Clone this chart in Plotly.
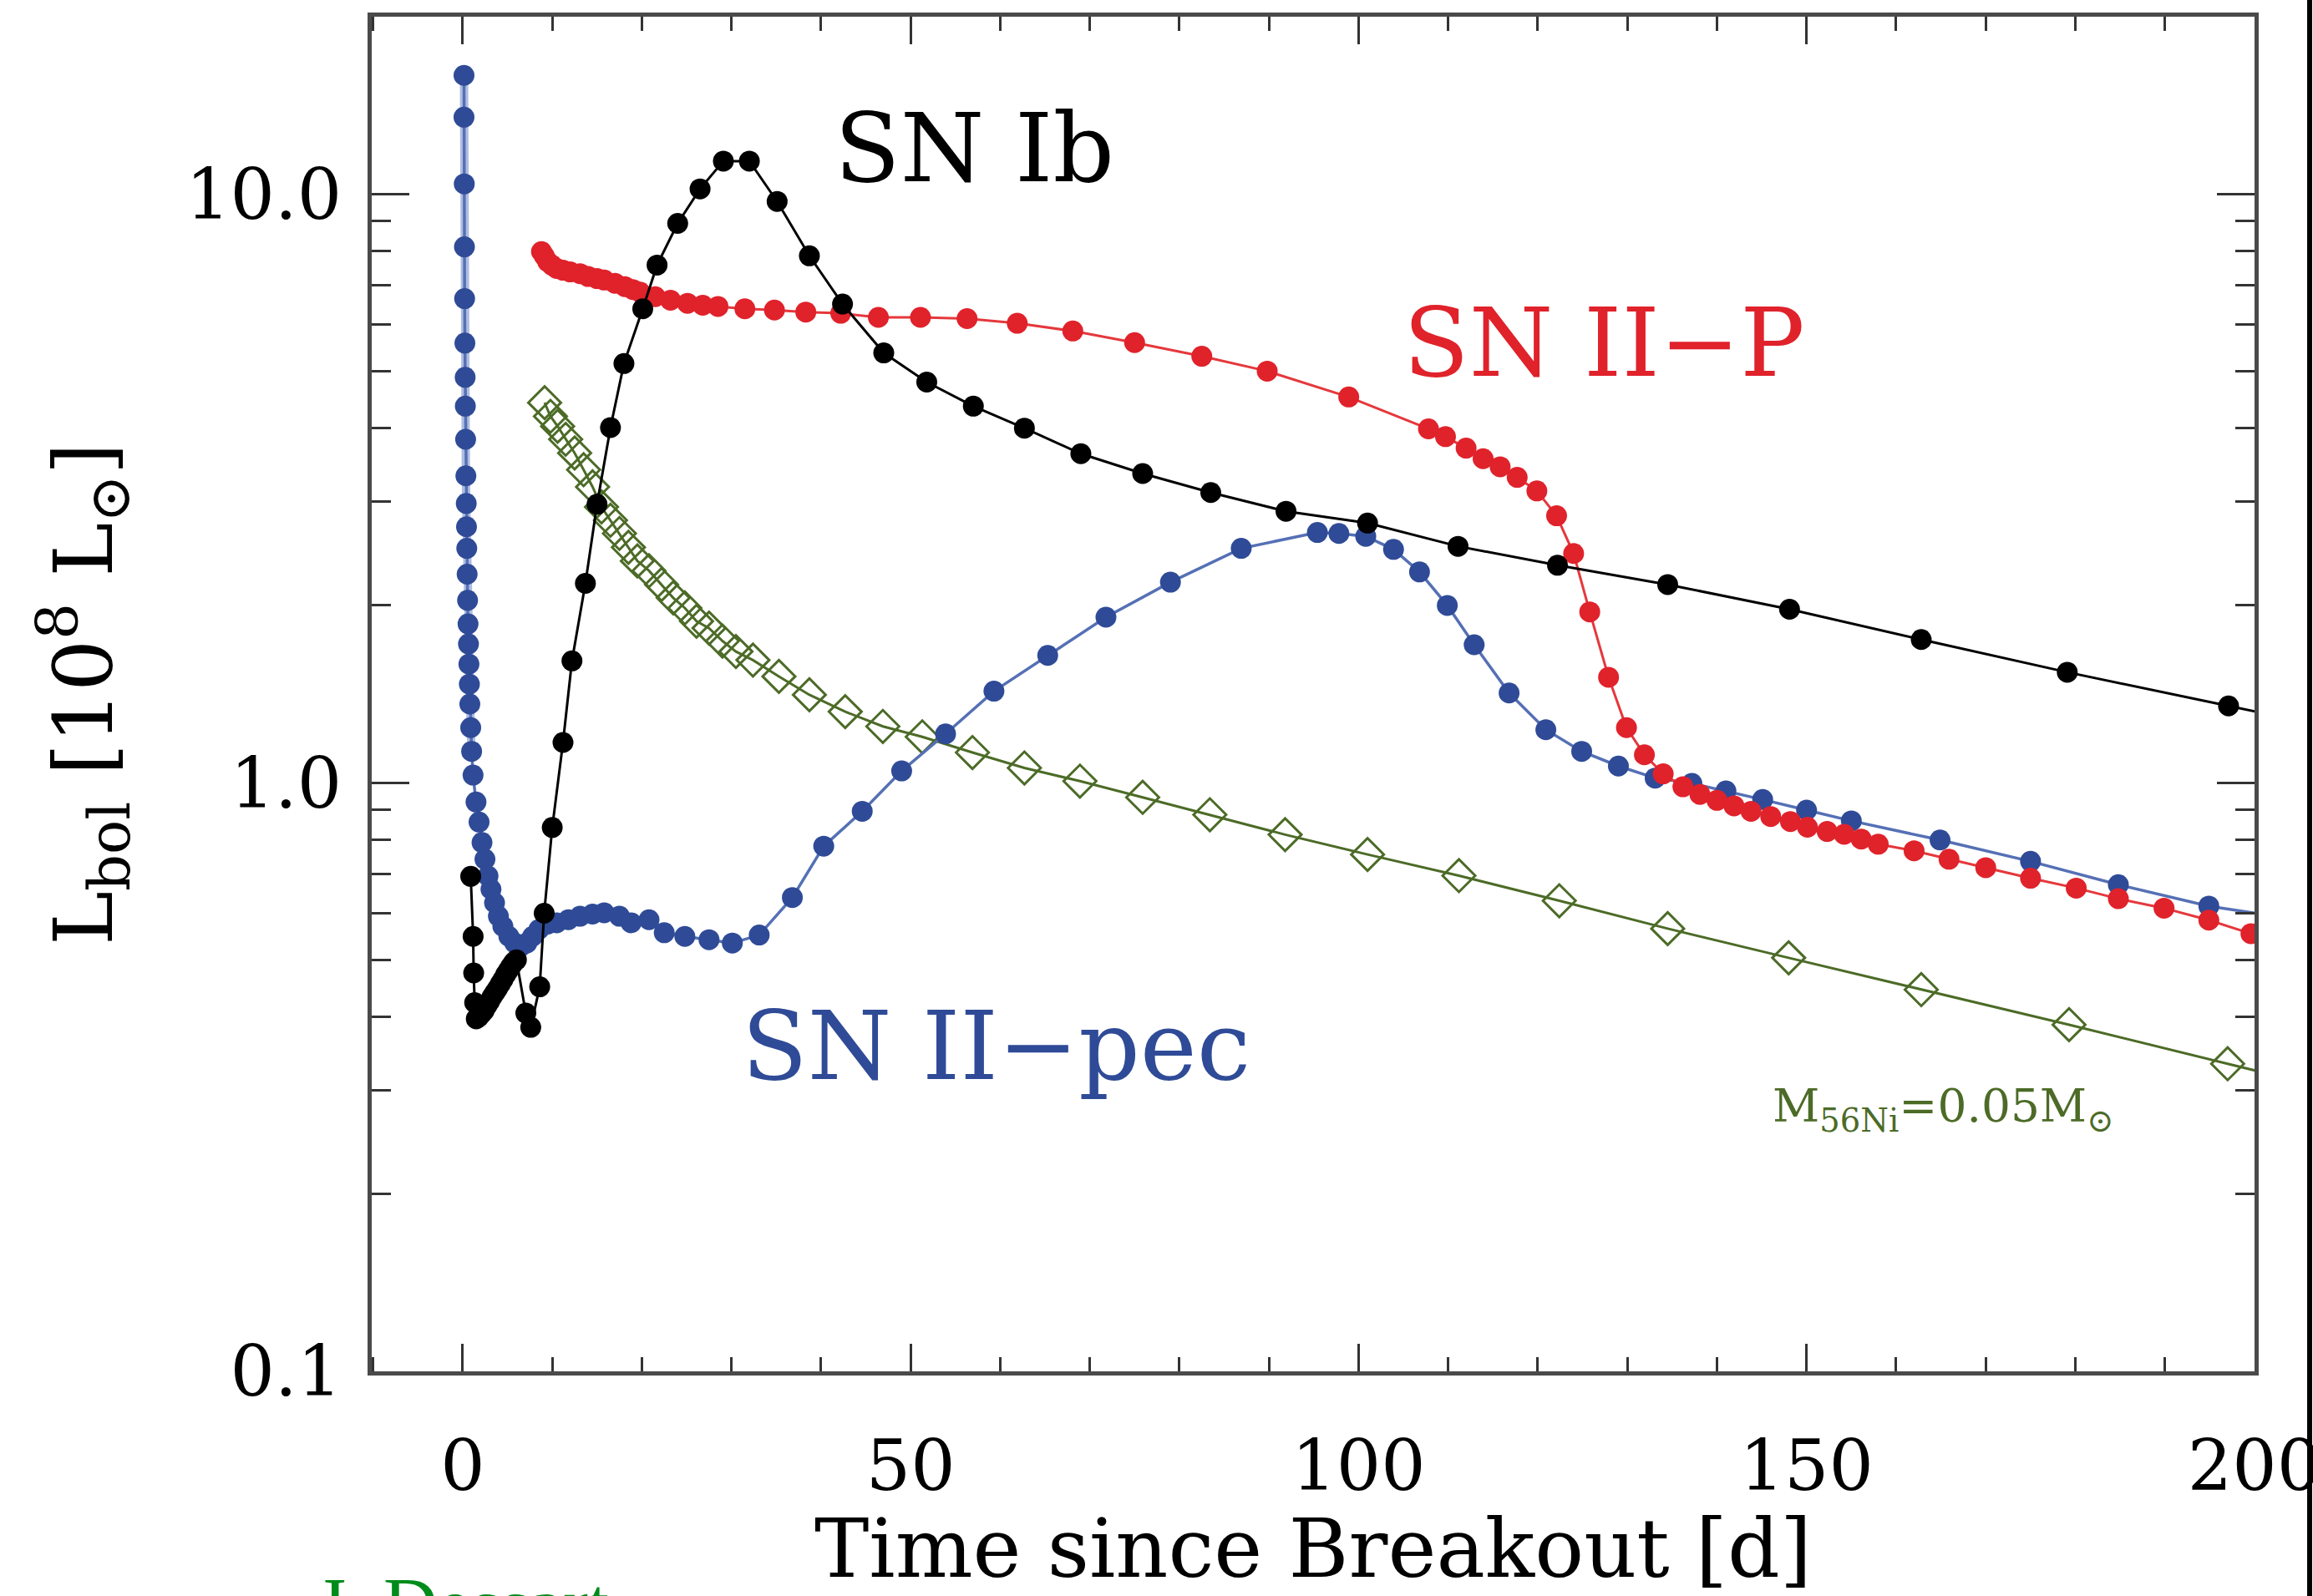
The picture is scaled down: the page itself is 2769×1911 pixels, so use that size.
import plotly.graph_objects as go
import math

# ---------------- data ----------------
# SN Ib (black)
ib_t = [0.9, 1.17, 1.23, 1.34, 1.52, 1.8, 2.1, 2.4, 2.7, 3.0, 3.3, 3.6, 3.9, 4.2, 4.5,
        4.8, 5.1, 5.4, 5.7, 6.0, 7.05, 7.6, 8.6, 9.1, 10.0, 11.2, 12.2, 13.7, 15.0, 16.5,
        18.0, 20.1, 21.7, 24.0, 26.5, 29.1, 32.0, 35.1, 38.7, 42.4, 47.0, 51.8, 57.0,
        62.7, 69.0, 75.9, 83.5, 91.9, 101.0, 111.1, 122.2, 134.5, 148.1, 162.8, 179.1,
        197.1, 216.8]
ib_L = [0.693, 0.548, 0.475, 0.423, 0.397, 0.400, 0.405, 0.410, 0.418, 0.425, 0.433,
        0.440, 0.447, 0.455, 0.463, 0.472, 0.480, 0.488, 0.495, 0.500, 0.406, 0.384,
        0.450, 0.600, 0.839, 1.17, 1.61, 2.18, 2.97, 4.01, 5.15, 6.38, 7.57, 8.91, 10.2,
        11.37, 11.37, 9.71, 7.85, 6.50, 5.37, 4.79, 4.36, 4.00, 3.62, 3.35, 3.11, 2.89,
        2.76, 2.52, 2.34, 2.17, 1.97, 1.75, 1.54, 1.35, 1.17]

# SN II-P (red)
iip_t = [8.8, 9.1, 9.5, 10.0, 10.5, 11.2, 12.0, 13.1, 14.0, 15.0, 15.8, 17.0, 18.1, 19.0,
         19.8, 21.5, 23.2, 25.1, 26.8, 28.5, 31.5, 34.8, 38.3, 42.2, 46.4, 51.1, 56.3,
         61.9, 68.1, 75.0, 82.5, 89.8, 98.9, 107.8, 109.7, 112.0, 113.9, 115.8, 117.7,
         119.9, 122.1, 124.0, 125.8, 127.9, 129.9, 131.9, 134.0, 136.2, 138.1, 140.0,
         141.9, 143.8, 146.0, 148.2, 150.1, 152.3, 154.2, 156.1, 158.0, 162.0, 165.9,
         170.0, 175.0, 180.1, 184.8, 189.9, 194.9, 199.6]
iip_L = [7.98, 7.85, 7.67, 7.56, 7.47, 7.42, 7.37, 7.32, 7.24, 7.18, 7.14, 7.05, 6.96,
         6.88, 6.81, 6.69, 6.60, 6.52, 6.47, 6.44, 6.38, 6.35, 6.30, 6.27, 6.17, 6.17,
         6.14, 6.03, 5.85, 5.59, 5.30, 5.00, 4.52, 3.99, 3.87, 3.70, 3.55, 3.44, 3.30,
         3.13, 2.84, 2.45, 1.95, 1.51, 1.24, 1.115, 1.035, 0.984, 0.955, 0.933, 0.913,
         0.894, 0.876, 0.859, 0.840, 0.826, 0.817, 0.802, 0.786, 0.766, 0.741, 0.717,
         0.688, 0.662, 0.635, 0.612, 0.584, 0.554]

# SN II-pec (blue)
pec_t = [0.15, 0.15, 0.18, 0.20, 0.22, 0.25, 0.28, 0.30, 0.33, 0.36, 0.40, 0.43, 0.46,
         0.50, 0.55, 0.60, 0.65, 0.70, 0.75, 0.80, 0.90, 1.00, 1.16, 1.49, 1.83, 2.16,
         2.49, 2.83, 3.16, 3.56, 3.99, 4.49, 5.16, 5.82, 6.49, 7.16, 7.8, 8.5, 9.5, 10.5,
         11.8, 13.1, 14.5, 15.8, 17.5, 18.8, 20.8, 22.5, 24.8, 27.5, 30.1, 33.1, 36.8,
         40.3, 44.6, 49.0, 53.9, 59.3, 65.3, 71.8, 79.0, 86.9, 95.4, 97.8, 100.8, 103.9,
         106.8, 109.9, 112.9, 116.8, 120.9, 124.9, 129.0, 133.1, 137.2, 141.0, 145.1,
         150.0, 155.0, 164.9, 175.0, 184.8, 194.9, 205.0]
pec_L = [15.9, 13.5, 10.4, 8.13, 6.64, 5.58, 4.88, 4.36, 3.83, 3.32, 2.98, 2.72, 2.50,
         2.26, 2.04, 1.86, 1.72, 1.59, 1.47, 1.36, 1.24, 1.13, 1.03, 0.927, 0.857, 0.791,
         0.741, 0.694, 0.659, 0.625, 0.593, 0.570, 0.548, 0.534, 0.527, 0.534, 0.548,
         0.563, 0.575, 0.578, 0.585, 0.593, 0.598, 0.601, 0.593, 0.578, 0.585, 0.556,
         0.548, 0.541, 0.534, 0.551, 0.638, 0.780, 0.894, 1.047, 1.21, 1.43, 1.645, 1.91,
         2.19, 2.50, 2.66, 2.65, 2.62, 2.49, 2.28, 2.00, 1.715, 1.42, 1.23, 1.13, 1.067,
         1.018, 0.997, 0.968, 0.936, 0.898, 0.861, 0.799, 0.735, 0.671, 0.617, 0.585]

# 56Ni decay, M(56Ni)=0.05 Msun (green diamonds)
ni_t = [9.15, 9.8, 10.6, 11.5, 12.5, 13.5, 14.5, 15.5, 16.5, 17.5, 18.5, 19.5, 20.8,
        22.2, 23.5, 24.8, 26.1, 27.5, 29.0, 30.5, 32.4, 35.3, 38.7, 42.7, 46.9, 51.3,
        56.9, 62.7, 68.9, 75.9, 83.4, 91.8, 101.0, 111.2, 122.4, 134.5, 148.0, 162.8,
        179.3, 197.0, 216.8]
ni_L = [4.42, 4.19, 4.03, 3.83, 3.63, 3.40, 3.18, 2.94, 2.79, 2.65, 2.51, 2.38, 2.29,
        2.17, 2.06, 1.98, 1.88, 1.83, 1.74, 1.67, 1.615, 1.515, 1.41, 1.32, 1.246, 1.196,
        1.125, 1.059, 1.006, 0.944, 0.882, 0.816, 0.755, 0.695, 0.630, 0.565, 0.504,
        0.445, 0.388, 0.333, 0.281]

x_ticks = [0, 50, 100, 150, 200]
x_labels = ["0", "50", "100", "150", "200"]
y_ticks = [0.1, 1.0, 10.0]
y_labels = ["0.1", "1.0", "10.0"]
y_minor = [0.2, 0.3, 0.4, 0.5, 0.6, 0.7, 0.8, 0.9, 2, 3, 4, 5, 6, 7, 8, 9, 20]

# ---------------- figure ----------------
W, H = 2769, 1911
ML, MR, MT, MB = 445, 70, 20, 269
PH = H - MT - MB

SERIF = "DejaVu Serif"
fig = go.Figure()

fig.add_trace(go.Scatter(
    x=ni_t, y=ni_L, mode="lines+markers", name="56Ni",
    line=dict(color="#4c6b27", width=3),
    marker=dict(symbol="diamond-open", size=30, color="#4c6b27", line=dict(width=3, color="#4c6b27")),
))
# wide pale band along the steep early descent of the SN II-pec curve
fig.add_trace(go.Scatter(
    x=pec_t[:22], y=pec_L[:22], mode="lines", name="SN II-pec early", hoverinfo="skip",
    line=dict(color="rgba(120,145,205,0.6)", width=10),
))
fig.add_trace(go.Scatter(
    x=pec_t, y=pec_L, mode="lines+markers", name="SN II-pec",
    line=dict(color="#5570b5", width=3.5),
    marker=dict(symbol="circle", size=25, color="#2f4b97", line=dict(width=0)),
))
fig.add_trace(go.Scatter(
    x=iip_t, y=iip_L, mode="lines+markers", name="SN II-P",
    line=dict(color="#e5383c", width=3),
    marker=dict(symbol="circle", size=25, color="#e0222b", line=dict(width=0)),
))
fig.add_trace(go.Scatter(
    x=ib_t, y=ib_L, mode="lines+markers", name="SN Ib",
    line=dict(color="#000000", width=3),
    marker=dict(symbol="circle", size=25, color="#000000", line=dict(width=0)),
))

axis_common = dict(
    showline=True, linecolor="#4a4a4a", linewidth=5, mirror="allticks",
    ticks="inside", tickwidth=3, tickcolor="#333333",
    showgrid=False, zeroline=False,
    ticklabeloverflow="allow",
    tickfont=dict(family=SERIF, size=84, color="black"),
)

fig.update_xaxes(
    **axis_common,
    range=[-10.15, 200],
    tickvals=x_ticks, ticktext=x_labels, ticklen=33,
    minor=dict(dtick=10, tick0=0, ticklen=17, tickwidth=3, tickcolor="#333333", ticks="inside"),
    ticklabelstandoff=36,
    title=dict(text="Time since Breakout [d]", font=dict(family=SERIF, size=98, color="black"), standoff=16),
)
fig.update_yaxes(
    **axis_common,
    type="log", range=[-1, math.log10(20)],
    tickvals=y_ticks, ticktext=y_labels, ticklen=45,
    minor=dict(tickvals=y_minor, ticklen=23, tickwidth=3, tickcolor="#333333", ticks="inside"),
    ticklabelstandoff=14,
    title=dict(text="L<sub>bol</sub> [10<sup>8</sup> L<sub>⊙</sub>]", font=dict(family=SERIF, size=98, color="black"), standoff=56),
)

def py(pix):
    """paper y coordinate from a pixel row"""
    return (H - MB - pix) / PH

anns = [
    dict(x=57.1, y=1.078, xref="x", yref="y", text="SN Ib", showarrow=False,
         font=dict(family=SERIF, size=115, color="black"), xanchor="center", yanchor="middle"),
    dict(x=127.4, y=0.7475, xref="x", yref="y", text="SN II−P", showarrow=False,
         font=dict(family=SERIF, size=115, color="#e0222b"), xanchor="center", yanchor="middle"),
    dict(x=59.5, y=-0.447, xref="x", yref="y", text="SN II−pec", showarrow=False,
         font=dict(family=SERIF, size=115, color="#2f4b97"), xanchor="center", yanchor="middle"),
    dict(x=146.0, y=-0.555, xref="x", yref="y", text="M<sub>56Ni</sub>=0.05M<sub>⊙</sub>", showarrow=False,
         font=dict(family=SERIF, size=55, color="#4c6b27"), xanchor="left", yanchor="middle"),
    dict(x=-0.03, y=py(1921), xref="paper", yref="paper", text="J. Dessart", showarrow=False,
         font=dict(family="Liberation Serif", size=90, color="#008c1a"), xanchor="left", yanchor="middle"),
]
fig.update_layout(
    width=W, height=H,
    margin=dict(l=ML, r=MR, t=MT, b=MB, autoexpand=False),
    paper_bgcolor="white", plot_bgcolor="white",
    showlegend=False,
    annotations=anns,
    shapes=[dict(type="line", xref="paper", yref="paper",
                 x0=(2765 - ML) / (W - ML - MR), x1=(2765 - ML) / (W - ML - MR),
                 y0=py(H), y1=py(0), line=dict(color="black", width=6), layer="above")],
)

fig.write_html("out.html")
